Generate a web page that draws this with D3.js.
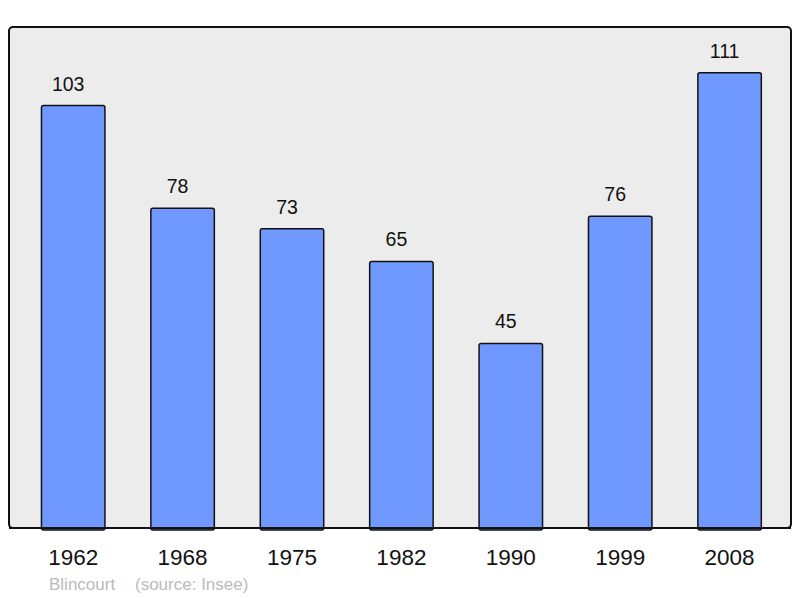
<!DOCTYPE html>
<html><head><meta charset="utf-8">
<script src="https://cdn.jsdelivr.net/npm/d3@7"></script>
<style>body{margin:0;background:#fff}svg{display:block}</style>
</head><body>
<script>
const years = ["1962","1968","1975","1982","1990","1999","2008"];
const population = [103,78,73,65,45,76,111];
const commune = "Blincourt";
const source = "(source: Insee)";

const W = 800, H = 598;
const panel = {x0: 9, y0: 27, x1: 791, y1: 528};
const svg = d3.select("body").append("svg").attr("width", W).attr("height", H);

svg.append("rect").attr("x", panel.x0).attr("y", panel.y0)
  .attr("width", panel.x1 - panel.x0).attr("height", panel.y1 - panel.y0)
  .attr("rx", 4).attr("fill", "#ececec").attr("stroke", "#111").attr("stroke-width", 2);

const x = d3.scaleBand().domain(years).range([18.5, 784.3]).paddingInner(0.42).paddingOuter(0.21);
const y = d3.scaleLinear().domain([0, 111]).range([panel.y1, 72.8]);

svg.selectAll("rect.bar").data(years).join("rect").attr("class","bar")
  .attr("x", d => x(d)).attr("width", x.bandwidth())
  .attr("y", (d,i) => y(population[i])).attr("height", (d,i) => y(0) - y(population[i]) + 2)
  .attr("rx", 2).attr("fill", "#7099ff").attr("stroke", "#111").attr("stroke-width", 1.5);

svg.append("line").attr("x1", panel.x0).attr("x2", panel.x1).attr("y1", panel.y1).attr("y2", panel.y1)
  .attr("stroke", "#111").attr("stroke-width", 2);

svg.selectAll("text.val").data(years).join("text").attr("class","val")
  .attr("x", d => x(d) + x.bandwidth()/2 - 5).attr("y", (d,i) => y(population[i]) - 15)
  .attr("text-anchor","middle").attr("font-family","Liberation Sans, Arial, sans-serif")
  .attr("font-size", 19.5).attr("fill","#111").text((d,i) => population[i]);

const xAxis = d3.axisBottom(x).tickSize(0).tickPadding(0);
const gx = svg.append("g").attr("transform", `translate(0,${panel.y1})`).call(xAxis);
gx.select(".domain").remove();
gx.selectAll("text").attr("dy", null).attr("y", 37)
  .attr("font-family","Liberation Sans, Arial, sans-serif").attr("font-size", 22.5).attr("fill","#111");

svg.append("text").attr("x", 49).attr("y", 590).attr("font-family","Liberation Sans, Arial, sans-serif")
  .attr("font-size", 17).attr("fill","#bbb").text(commune);
svg.append("text").attr("x", 135).attr("y", 590).attr("font-family","Liberation Sans, Arial, sans-serif")
  .attr("font-size", 17).attr("fill","#bbb").text(source);
</script>
</body></html>
